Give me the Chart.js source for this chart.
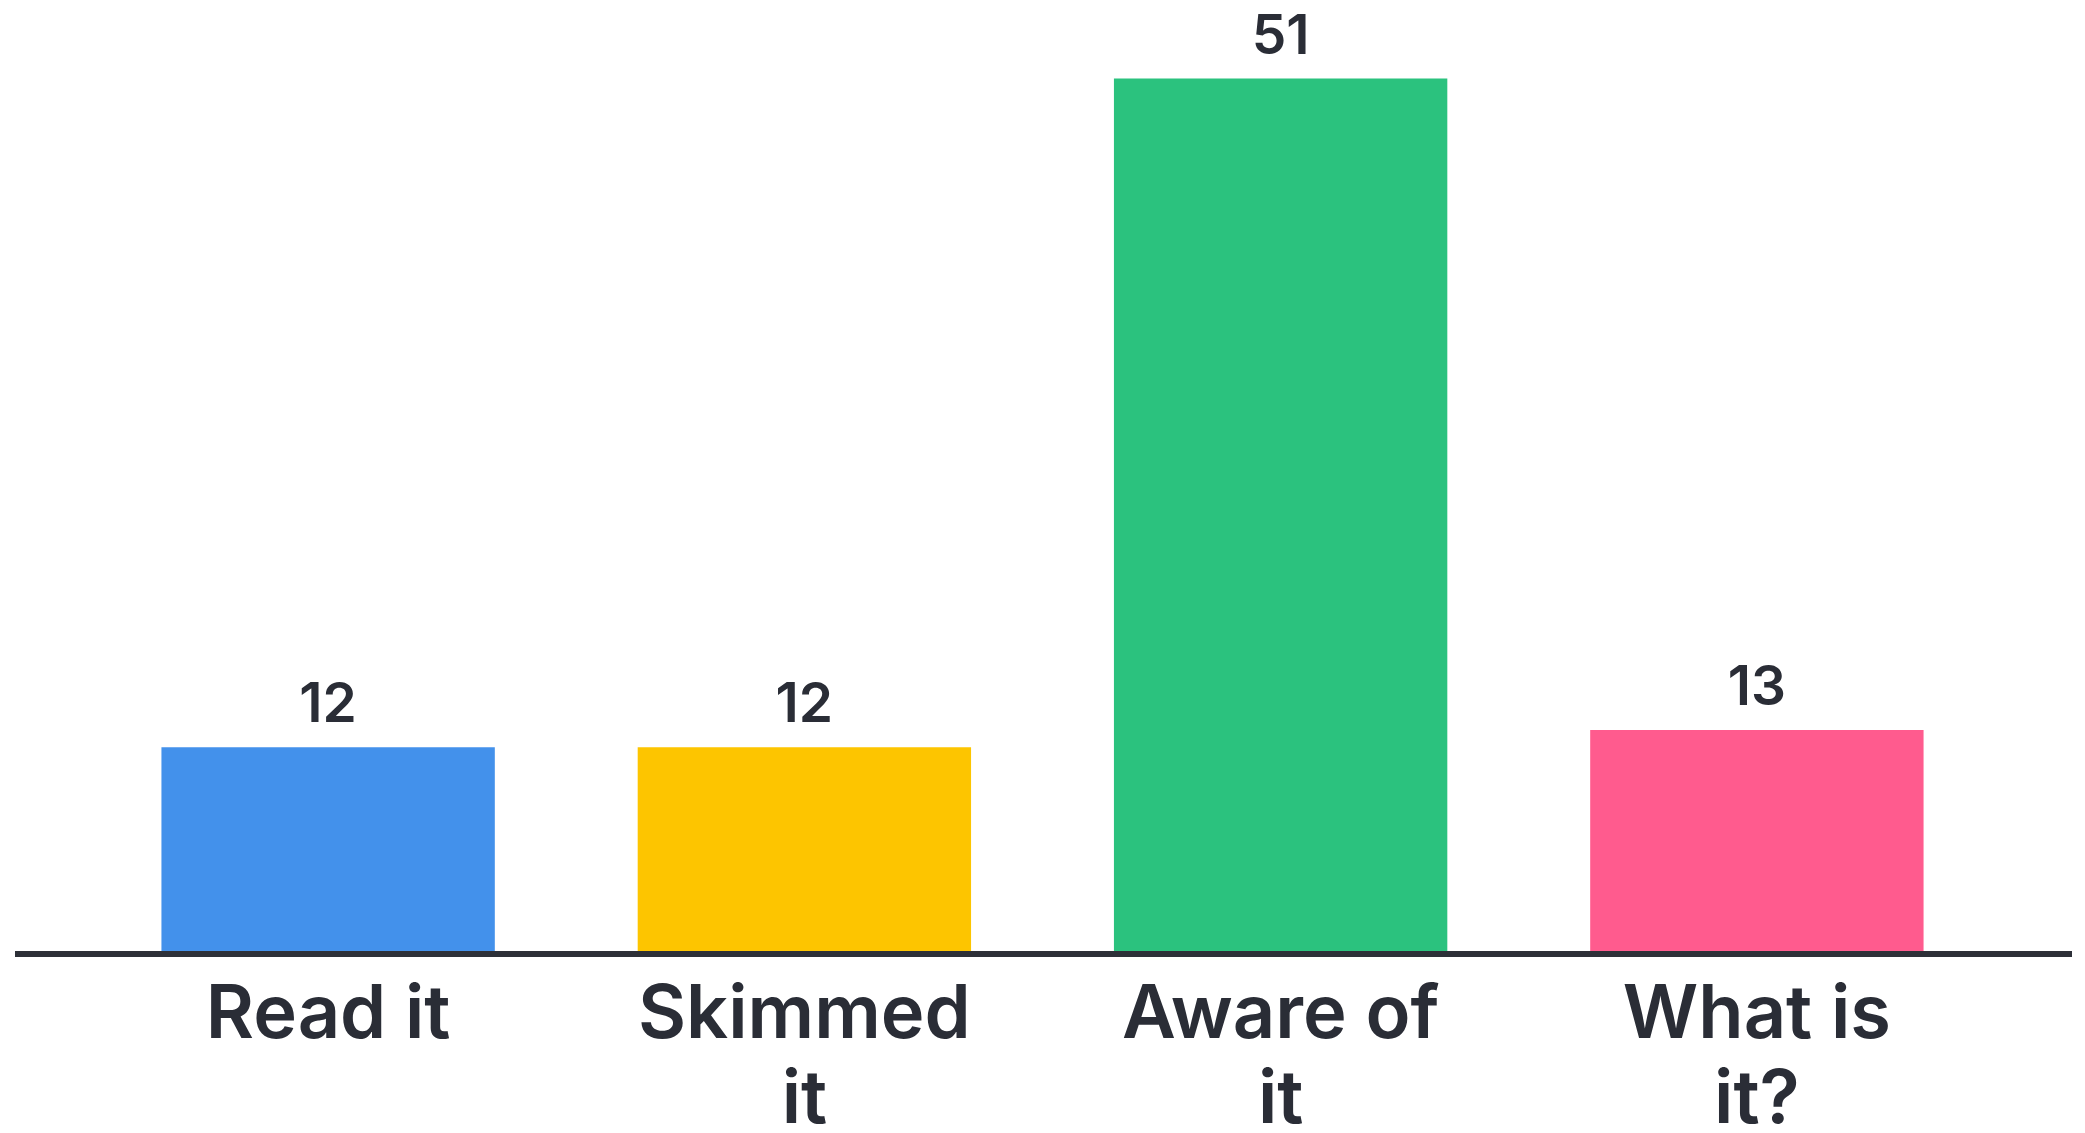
<!DOCTYPE html>
<html>
<head>
<meta charset="utf-8">
<script src="https://cdn.jsdelivr.net/npm/chart.js@4/dist/chart.umd.min.js"></script>
<style>
  html, body { margin: 0; padding: 0; background: #ffffff; }
  #wrap { width: 2085px; height: 1133px; position: relative; }
</style>
</head>
<body>
<div id="wrap"><canvas id="grafico"></canvas></div>
<script>
const categorias = [["Read it"], ["Skimmed", "it"], ["Aware of", "it"], ["What is", "it?"]];
const respostas = [12, 12, 51, 13];
const cores = ["#4391eb", "#fdc500", "#2bc27e", "#ff5b8e"];

const corTexto = "#2a2d36";

// valores escritos em cima de cada barra
const rotulosValor = {
  id: 'rotulosValor',
  afterDatasetsDraw(chart) {
    const ctx = chart.ctx;
    const meta = chart.getDatasetMeta(0);
    ctx.save();
    ctx.font = '600 55px Inter';
    ctx.fillStyle = corTexto;
    ctx.textAlign = 'center';
    ctx.textBaseline = 'alphabetic';
    meta.data.forEach((bar, i) => {
      ctx.fillText(String(respostas[i]), bar.x, bar.y - 25);
    });
    ctx.restore();
  }
};

// linha de base mais larga que a área do gráfico
const linhaBase = {
  id: 'linhaBase',
  afterDatasetsDraw(chart) {
    const ctx = chart.ctx;
    const y = chart.scales.y.getPixelForValue(0);
    ctx.save();
    ctx.strokeStyle = "#2d3038";
    ctx.lineWidth = 6;
    ctx.beginPath();
    ctx.moveTo(15, y + 1);
    ctx.lineTo(2072, y + 1);
    ctx.stroke();
    ctx.restore();
  }
};

new Chart(document.getElementById('grafico'), {
  type: 'bar',
  data: {
    labels: categorias,
    datasets: [{
      data: respostas,
      backgroundColor: cores,
      borderWidth: 0,
      barPercentage: 0.7,
      categoryPercentage: 1
    }]
  },
  options: {
    responsive: true,
    maintainAspectRatio: false,
    animation: false,
    layout: { padding: { left: 90, right: 90, top: 10, bottom: 0 } },
    plugins: {
      legend: { display: false },
      tooltip: { enabled: false }
    },
    scales: {
      x: {
        grid: { display: false },
        border: { display: false },
        ticks: {
          color: corTexto,
          font: { family: 'Inter', size: 74, weight: '600', lineHeight: 1.15 },
          padding: 12,
          maxRotation: 0,
          autoSkip: false
        },
        afterFit(scale) { scale.height = 180; }
      },
      y: {
        display: false,
        min: 0,
        max: 55
      }
    }
  },
  plugins: [linhaBase, rotulosValor]
});
</script>
</body>
</html>
